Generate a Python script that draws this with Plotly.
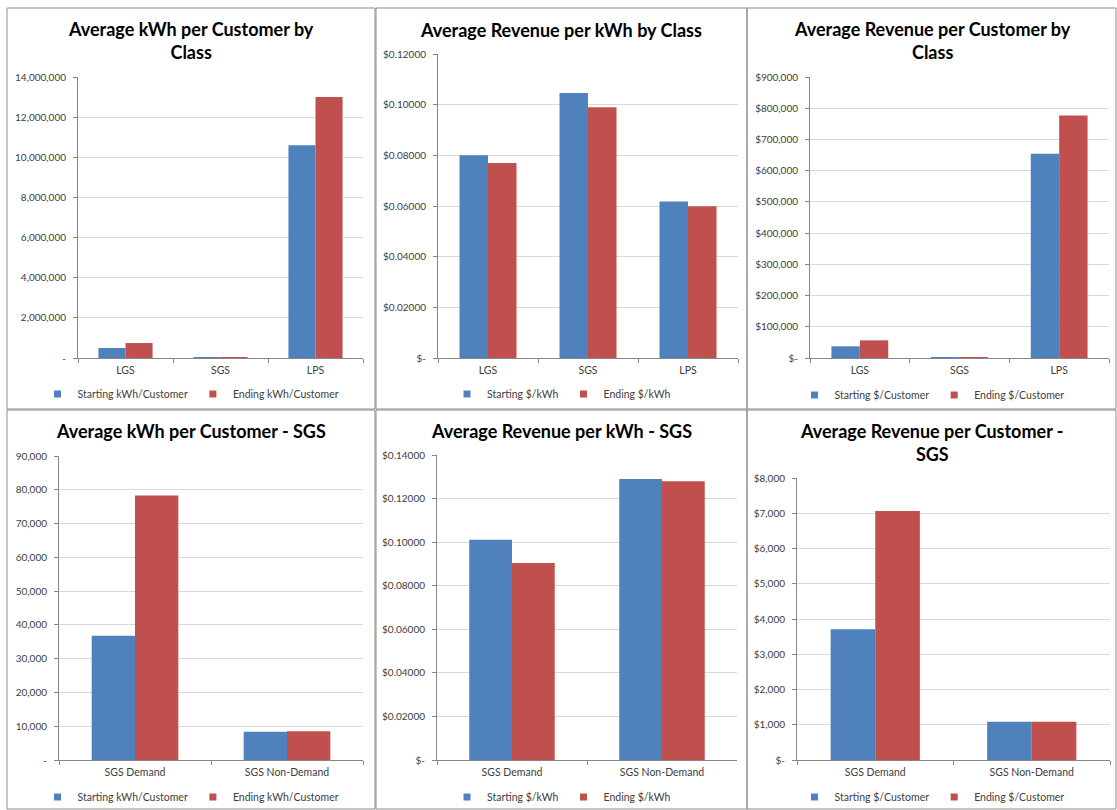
import plotly.graph_objects as go

W, H = 1117, 810
BLUE = "#4F81BD"
RED = "#C0504D"
FONT = "Lato"

# ---------------- data ----------------
class_cats = ["LGS", "SGS", "LPS"]
sgs_cats = ["SGS Demand", "SGS Non-Demand"]

kwh_start = [500000, 20000, 10600000]
kwh_end = [745000, 24000, 13000000]

rev_kwh_start = [0.0800, 0.1046, 0.0618]
rev_kwh_end = [0.0770, 0.0990, 0.0599]

rev_cust_start = [37400, 2500, 654000]
rev_cust_end = [56600, 2600, 777000]

sgs_kwh_start = [36800, 8400]
sgs_kwh_end = [78300, 8500]

sgs_rev_kwh_start = [0.1011, 0.1290]
sgs_rev_kwh_end = [0.0904, 0.1279]

sgs_rev_cust_start = [3710, 1086]
sgs_rev_cust_end = [7065, 1086]

ticks_kwh = [0, 2e6, 4e6, 6e6, 8e6, 10e6, 12e6, 14e6]
ticktext_kwh = ["-", "2,000,000", "4,000,000", "6,000,000", "8,000,000",
                "10,000,000", "12,000,000", "14,000,000"]
ticks_rkwh = [0, 0.02, 0.04, 0.06, 0.08, 0.10, 0.12]
ticktext_rkwh = ["$-", "$0.02000", "$0.04000", "$0.06000", "$0.08000",
                 "$0.10000", "$0.12000"]
ticks_rcust = [0, 1e5, 2e5, 3e5, 4e5, 5e5, 6e5, 7e5, 8e5, 9e5]
ticktext_rcust = ["$-", "$100,000", "$200,000", "$300,000", "$400,000",
                  "$500,000", "$600,000", "$700,000", "$800,000", "$900,000"]
ticks_skwh = [0, 1e4, 2e4, 3e4, 4e4, 5e4, 6e4, 7e4, 8e4, 9e4]
ticktext_skwh = ["-", "10,000", "20,000", "30,000", "40,000", "50,000",
                 "60,000", "70,000", "80,000", "90,000"]
ticks_srkwh = [0, 0.02, 0.04, 0.06, 0.08, 0.10, 0.12, 0.14]
ticktext_srkwh = ["$-", "$0.02000", "$0.04000", "$0.06000", "$0.08000",
                  "$0.10000", "$0.12000", "$0.14000"]
ticks_srcust = [0, 1000, 2000, 3000, 4000, 5000, 6000, 7000, 8000]
ticktext_srcust = ["$-", "$1,000", "$2,000", "$3,000", "$4,000", "$5,000",
                   "$6,000", "$7,000", "$8,000"]

# --------------- layout helpers ---------------
def px(x):
    return x / W


def py(y):
    return 1 - y / H


charts = [
    dict(cats=class_cats, s=kwh_start, e=kwh_end,
         names=["Starting kWh/Customer", "Ending kWh/Customer"],
         title="Average kWh per Customer by<br>Class",
         tv=ticks_kwh, tt=ticktext_kwh, rng=14e6,
         plot=(78, 363, 77, 358), panel=(7, 375), title_y=41, legend_y=394),
    dict(cats=class_cats, s=rev_kwh_start, e=rev_kwh_end,
         names=["Starting $/kWh", "Ending $/kWh"],
         title="Average Revenue per kWh by Class",
         tv=ticks_rkwh, tt=ticktext_rkwh, rng=0.12,
         plot=(438, 738, 54, 358), panel=(376, 747), title_y=30, legend_y=394),
    dict(cats=class_cats, s=rev_cust_start, e=rev_cust_end,
         names=["Starting $/Customer", "Ending $/Customer"],
         title="Average Revenue per Customer by<br>Class",
         tv=ticks_rcust, tt=ticktext_rcust, rng=9e5,
         plot=(810, 1109, 77, 358), panel=(747, 1117), title_y=41, legend_y=395),
    dict(cats=sgs_cats, s=sgs_kwh_start, e=sgs_kwh_end,
         names=["Starting kWh/Customer", "Ending kWh/Customer"],
         title="Average kWh per Customer - SGS",
         tv=ticks_skwh, tt=ticktext_skwh, rng=9e4,
         plot=(59, 363, 456, 760), panel=(7, 375), title_y=431, legend_y=797),
    dict(cats=sgs_cats, s=sgs_rev_kwh_start, e=sgs_rev_kwh_end,
         names=["Starting $/kWh", "Ending $/kWh"],
         title="Average Revenue per kWh - SGS",
         tv=ticks_srkwh, tt=ticktext_srkwh, rng=0.14,
         plot=(437, 737, 455, 760), panel=(376, 747), title_y=431, legend_y=797),
    dict(cats=sgs_cats, s=sgs_rev_cust_start, e=sgs_rev_cust_end,
         names=["Starting $/Customer", "Ending $/Customer"],
         title="Average Revenue per Customer -<br>SGS",
         tv=ticks_srcust, tt=ticktext_srcust, rng=8000,
         plot=(797, 1110, 478, 760), panel=(747, 1117), title_y=442, legend_y=797),
]

fig = go.Figure()
layout = dict(
    template="none",
    width=W, height=H, autosize=False,
    margin=dict(l=0, r=0, t=0, b=0, pad=0, autoexpand=False),
    paper_bgcolor="white", plot_bgcolor="white",
    barmode="group", bargap=0.43, bargroupgap=0,
    font=dict(family=FONT, size=10, color="#404040"),
    showlegend=True,
)
annotations = []
shapes = []

for i, c in enumerate(charts):
    n = "" if i == 0 else str(i + 1)
    xa, ya = "x" + n, "y" + n
    lg = "legend" if i == 0 else "legend" + str(i + 1)
    for vals, nm, col, grp in [(c["s"], c["names"][0], BLUE, "a"),
                               (c["e"], c["names"][1], RED, "b")]:
        fig.add_trace(go.Bar(x=c["cats"], y=vals, name=nm,
                             marker=dict(color=col, line=dict(width=0)),
                             xaxis=xa, yaxis=ya, offsetgroup=grp,
                             showlegend=False, legendgroup=nm + str(i)))
        # legend entry (small square swatch, like Excel)
        fig.add_trace(go.Scatter(x=[None], y=[None], mode="markers", name=nm,
                                 marker=dict(symbol="square", size=7, color=col),
                                 xaxis=xa, yaxis=ya, legend=lg,
                                 legendgroup=nm + str(i), showlegend=True))
    x0, x1, y0, y1 = c["plot"]
    layout["xaxis" + n] = dict(
        domain=[px(x0), px(x1)], anchor=ya, showgrid=False, automargin=False,
        showline=True, linecolor="#868686", linewidth=1, zeroline=False,
        ticks="outside", tickson="boundaries", ticklen=4, tickcolor="#868686",
        ticklabelstandoff=2,
        tickfont=dict(size=10.5, color="#404040"), fixedrange=True,
    )
    layout["yaxis" + n] = dict(
        domain=[py(y1), py(y0)], anchor=xa, range=[0, c["rng"]], automargin=False,
        tickvals=c["tv"], ticktext=c["tt"], showgrid=True,
        gridcolor="#D9D9D9", gridwidth=1, zeroline=False,
        showline=True, linecolor="#868686", linewidth=1,
        ticks="outside", ticklen=4, tickcolor="#868686",
        ticklabelstandoff=5,
        tickfont=dict(size=10, color="#404040"), fixedrange=True,
    )
    p0, p1 = c["panel"]
    cx = (p0 + p1) / 2
    annotations.append(dict(
        text="<b>" + c["title"] + "</b>", x=px(cx), y=py(c["title_y"]),
        xref="paper", yref="paper", xanchor="center", yanchor="middle",
        showarrow=False, font=dict(family=FONT, size=18, color="black"),
    ))
    layout[lg] = dict(
        orientation="h", x=px(cx), y=py(c["legend_y"]), xanchor="center",
        yanchor="middle", font=dict(size=10.5, color="#404040"),
        bgcolor="rgba(0,0,0,0)", itemwidth=30, traceorder="normal",
        tracegroupgap=0, itemclick=False, itemdoubleclick=False,
    )

# panel borders
border = dict(color="#8C8C8C", width=1)
for (a, b, c_, d) in [(7, 8, 375, 409), (376, 8, 747, 409), (747, 8, 1116, 409),
                      (7, 410, 375, 809), (376, 410, 747, 809), (747, 410, 1116, 809)]:
    shapes.append(dict(type="rect", xref="paper", yref="paper",
                       x0=px(a), x1=px(c_), y0=py(d), y1=py(b), line=border,
                       fillcolor="rgba(0,0,0,0)", layer="below"))

layout["annotations"] = annotations
layout["shapes"] = shapes
fig.update_layout(**layout)
fig.write_html("out.html", config={"displayModeBar": False})
